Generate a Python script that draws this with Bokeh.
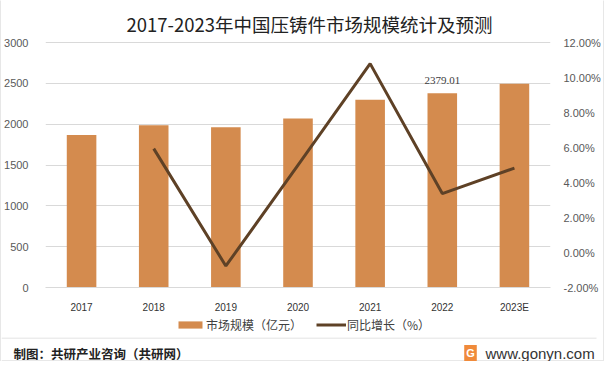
from bokeh.plotting import figure
from bokeh.layouts import column, row
from bokeh.models import (Range1d, LinearAxis, FixedTicker, PrintfTickFormatter, Legend,
                          LegendItem, Label, LabelSet, ColumnDataSource, FactorRange)
from bokeh.embed import file_html
from bokeh.resources import INLINE

# ---- data ----
years = ["2017", "2018", "2019", "2020", "2021", "2022", "2023E"]
market = [1867, 1987, 1963, 2071, 2300, 2379.01, 2496]          # 市场规模（亿元）
growth_years = ["2018", "2019", "2020", "2021", "2022", "2023E"]
growth = [5.94, -0.77, 5.0, 10.8, 3.37, 4.83]                    # 同比增长（%）
left_ticks = [0, 500, 1000, 1500, 2000, 2500, 3000]
right_ticks = [-2, 0, 2, 4, 6, 8, 10, 12]
label_years = ["2022"]
label_values = [2379.01]
series_names = ["市场规模（亿元）", "同比增长（%）"]

BAR = "#D48B4E"
LINE = "#5E4126"
GRID = "#D9D9D9"
EDGE = "#D0D0D0"
CJK = "Noto Sans CJK SC"
LAT = "Liberation Sans"

W = 602
TOP_H = 1
MAIN_H = 314
LEG_H = 22
FOOT_H = 24
TOTAL_H = TOP_H + MAIN_H + LEG_H + FOOT_H

# main frame: from top of main figure to the 0-line; the 0..3000 span covers 250 px
FRAME_H = MAIN_H - 22
AXIS_PX = 250.0
LEFT_END = left_ticks[-1] * FRAME_H / AXIS_PX
RIGHT_END = right_ticks[0] + (right_ticks[-1] - right_ticks[0]) * FRAME_H / AXIS_PX


def blank_fig(h, y0, w=W):
    f = figure(width=w, height=h, x_range=Range1d(0, w), y_range=Range1d(y0 + h, y0),
               output_backend="svg", toolbar_location=None, x_axis_type=None, y_axis_type=None,
               min_border=0, min_border_left=0, min_border_right=0, min_border_top=0,
               min_border_bottom=0, frame_align=False)
    f.outline_line_color = None
    f.xgrid.visible = False
    f.ygrid.visible = False
    f.background_fill_color = "white"
    f.border_fill_color = "white"
    return f


def edge_fig(w, h):
    f = blank_fig(h, 0, w=w)
    f.background_fill_color = EDGE
    f.border_fill_color = EDGE
    return f


# ---- main chart (frame extends up to hold the title) ----
p = figure(x_range=FactorRange(factors=years, range_padding=0),
           y_range=Range1d(left_ticks[0], LEFT_END),
           width=W, height=MAIN_H, output_backend="svg", toolbar_location=None,
           min_border_left=40, min_border_right=44, min_border_top=0, min_border_bottom=22,
           frame_align=False)
p.extra_y_ranges = {"pct": Range1d(right_ticks[0], RIGHT_END)}
p.outline_line_color = None
p.background_fill_color = "white"
p.border_fill_color = "white"
p.xgrid.grid_line_color = None
p.ygrid.grid_line_color = GRID
p.ygrid.grid_line_width = 1

bar_src = ColumnDataSource(dict(x=years, top=market))
bars = p.vbar(x="x", top="top", width=0.41, source=bar_src, fill_color=BAR, line_color=None)
line_src = ColumnDataSource(dict(x=growth_years, y=growth))
ln = p.line(x="x", y="y", source=line_src, y_range_name="pct", line_color=LINE, line_width=3)

ya = p.yaxis[0]
ya.ticker = FixedTicker(ticks=left_ticks)
ya.axis_line_color = None
ya.major_tick_line_color = None
ya.minor_tick_line_color = None
ya.major_label_standoff = 11
ya.major_label_text_font = LAT
ya.major_label_text_font_size = "11px"
ya.major_label_text_color = "#595959"

ra = LinearAxis(y_range_name="pct", ticker=FixedTicker(ticks=right_ticks),
                formatter=PrintfTickFormatter(format="%.2f%%"))
ra.axis_line_color = None
ra.major_tick_line_color = None
ra.minor_tick_line_color = None
ra.major_label_standoff = 7
ra.major_label_text_font = LAT
ra.major_label_text_font_size = "11px"
ra.major_label_text_color = "#595959"
p.add_layout(ra, "right")

xa = p.xaxis[0]
xa.axis_line_color = GRID
xa.major_tick_line_color = None
xa.minor_tick_line_color = None
xa.major_label_standoff = 8
xa.major_label_text_font = LAT
xa.major_label_text_font_size = "10px"
xa.major_label_text_color = "#333333"

lab_src = ColumnDataSource(dict(x=label_years, y=label_values,
                                t=[f"{v:.2f}" for v in label_values]))
p.add_layout(LabelSet(x="x", y="y", text="t", source=lab_src, text_align="center",
                      text_baseline="alphabetic", y_offset=9, text_font=LAT,
                      text_font_size="11px", text_color="#404040"))

# title, placed in screen px relative to the frame's bottom-left corner
p.add_layout(Label(x=264, y=FRAME_H + TOP_H - 29, x_units="screen", y_units="screen",
                   text="2017-2023年中国压铸件市场规模统计及预测",
                   text_align="center", text_baseline="middle", text_font=CJK,
                   text_font_size="18.5px", text_color="#222222"))

# ---- legend strip (hidden proxy renderers carry the legend styling) ----
lf = blank_fig(LEG_H, 315)
g_bar = lf.vbar(x=list(range(len(market))), top=market, width=0.41, fill_color=BAR,
                line_color=None, visible=False)
g_line = lf.line(x=list(range(len(growth))), y=growth, line_color=LINE, line_width=3,
                 visible=False)
legend = Legend(items=[LegendItem(label=series_names[0], renderers=[g_bar]),
                       LegendItem(label=series_names[1], renderers=[g_line])],
                orientation="horizontal", location=(174, 4), padding=0, margin=0,
                spacing=14, label_standoff=1, glyph_width=30, glyph_height=9,
                label_height=9, label_text_font=CJK, label_text_font_size="12px",
                label_text_color="#404040", border_line_color=None, background_fill_alpha=0,
                inactive_fill_alpha=0)
lf.add_layout(legend)

# ---- footer ----
ff = blank_fig(FOOT_H, 337)
ff.segment(x0=[0], y0=[337.5], x1=[595], y1=[337.5], line_color=GRID, line_width=1)
ff.segment(x0=[0], y0=[360.5], x1=[W], y1=[360.5], line_color=EDGE, line_width=1)
ff.add_layout(Label(x=12, y=352.5, text="制图：共研产业咨询（共研网）", text_align="left",
                    text_baseline="middle", text_font=CJK, text_font_size="12.5px",
                    text_font_style="bold", text_color="#222222"))
ff.add_layout(Label(x=469, y=352.5, text="G", text_align="center", text_baseline="middle",
                    text_font=LAT, text_font_size="11px", text_font_style="bold",
                    text_color="white", background_fill_color="#F08A3A", padding=2))
ff.add_layout(Label(x=484, y=352.5, text="www.gonyn.com", text_align="left",
                    text_baseline="middle", text_font=LAT, text_font_size="15px",
                    text_color="#333333"))

body = column(edge_fig(W, TOP_H), p, lf, ff, spacing=0)
layout = row(edge_fig(1, TOTAL_H), body, edge_fig(1, TOTAL_H), spacing=0)
open("out.html", "w").write(file_html(layout, INLINE))
